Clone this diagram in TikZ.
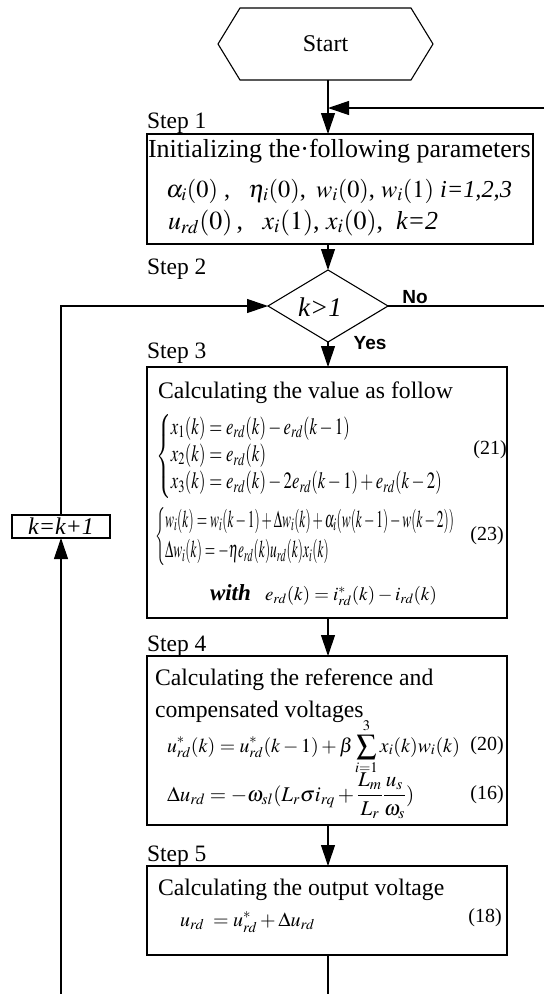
\documentclass[tikz,border=0pt]{standalone}
\usepackage{mathptmx}
\usepackage{fontspec}
\setmainfont{Liberation Serif}
\newfontfamily\sansb{Liberation Sans}
\usepackage{graphicx}
\usetikzlibrary{arrows.meta}
\newcommand{\fs}[1]{\fontsize{#1}{#1}\selectfont}
\tikzset{
  every node/.style={inner sep=0pt, outer sep=0pt},
  box/.style={draw, line width=1.2pt, anchor=north west},
  conn/.style={line width=1.1pt},
  arr/.style={line width=1.1pt, -{Triangle[length=21pt,width=14pt]}},
  steplabel/.style={anchor=base west, font=\fs{23.5}},
  bodytext/.style={anchor=base west, font=\fs{23.7}},
  eqnum/.style={font=\fs{20}},
  yn/.style={font=\sansb\bfseries\fs{19}},
}
\begin{document}
\begin{tikzpicture}[x=1pt,y=-1pt]
\useasboundingbox (0,0) rectangle (544,994);

% Start
\node[minimum width=215pt, minimum height=72pt, font=\fs{24}] (start) at (325.5,44) {Start};
\draw[conn] (start.west) -- ([xshift=22pt]start.north west) -- ([xshift=-22pt]start.north east)
  -- (start.east) -- ([xshift=-22pt]start.south east) -- ([xshift=22pt]start.south west) -- cycle;

% boxes
\node[box, minimum width=386pt, minimum height=110pt] (s1) at (147,134) {};
\node[minimum width=120pt, minimum height=72pt] (d) at (328,306) {};
\draw[conn] (d.north) -- (d.east) -- (d.south) -- (d.west) -- cycle;
\node[box, minimum width=360pt, minimum height=251pt] (s3) at (147,367) {};
\node[box, minimum width=360pt, minimum height=169pt] (s4) at (147,656) {};
\node[box, minimum width=360pt, minimum height=89pt] (s5) at (147,866) {};
\node[draw, line width=1.2pt, minimum width=98pt, minimum height=23pt, font=\fs{24}] (kb) at (61,526.5) {\textit{k=k+1}};

% step labels
\node[steplabel] (l1) at (147,128) {Step 1};
\node[steplabel] (l2) at (147,274) {Step 2};
\node[steplabel] (l3) at (147,358) {Step 3};
\node[steplabel] (l4) at (147,651) {Step 4};
\node[steplabel] (l5) at (147,861) {Step 5};

% Step 1 content
\node[anchor=base west, font=\fs{26}] (t1) at (148,157) {Initializing the·following parameters};
\node[anchor=base west, font=\fs{22}] (p1) at (166,197) {\resizebox{346pt}{!}{$\alpha_i(0)$\ ,\ \ \ $\eta_i(0)$, \,$w_i(0)$, $w_i(1)$\ \textit{i=1,2,3}}};
\node[anchor=base west, font=\fs{22}] (p2) at (168,229) {\resizebox{270pt}{!}{$u_{rd}(0)$\,,\ \ \ $x_i(1)$, $x_i(0)$,\ \ \textit{k=2}}};

% Step 2 content
\node[font=\fs{27}] (dk) at (320,307) {\textit{k>1}};
\node[yn] (no) at (415,297) {No};
\node[yn] (yes) at (370,343) {Yes};

% Step 3 content
\node[bodytext] (t3) at (158,398) {Calculating the value as follow};
\node[anchor=west, font=\fs{17}] (e21) at (156,456) {\resizebox*{287pt}{84pt}{$\left\{\begin{array}{@{}l@{}}
  x_1(k)=e_{rd}(k)-e_{rd}(k-1)\\[2pt]
  x_2(k)=e_{rd}(k)\\[2pt]
  x_3(k)=e_{rd}(k)-2e_{rd}(k-1)+e_{rd}(k-2)
  \end{array}\right.$}};
\node[eqnum] (n21) at (490,450) {(21)};
\node[anchor=west, font=\fs{15}] (e23) at (155,537) {\resizebox*{300pt}{58pt}{$\left\{\begin{array}{@{}l@{}}
  w_i(k)=w_i(k-1)+\Delta w_i(k)+\alpha_i(w(k-1)-w(k-2))\\[3pt]
  \Delta w_i(k)=-\eta e_{rd}(k)u_{rd}(k)x_i(k)
  \end{array}\right.$}};
\node[eqnum] (n23) at (487,536) {(23)};
\node[anchor=base west, font=\fs{23}] (with) at (210,600) {\textbf{\textit{with}}};
\node[anchor=base west, font=\fs{20}] (ew) at (265,600) {\resizebox{172pt}{!}{$e_{rd}(k)=i^*_{rd}(k)-i_{rd}(k)$}};

% Step 4 content
\node[bodytext] (t4a) at (155,685) {Calculating the reference and};
\node[bodytext] (t4b) at (155,717) {compensated voltages};
\node[anchor=base west, font=\fs{19}] (e20) at (167,752) {\resizebox{293pt}{!}{$\displaystyle u^*_{rd}(k)=u^*_{rd}(k-1)+\beta\sum_{i=1}^{3}x_i(k)w_i(k)$}};
\node[eqnum] (n20) at (487,746) {(20)};
\node[anchor=base west, font=\fs{21}] (e16) at (167,801) {$\displaystyle \Delta u_{rd}=-\omega_{sl}(L_r\sigma i_{rq}+\frac{L_m}{L_r}\frac{u_s}{\omega_s})$};
\node[eqnum] (n16) at (487,795) {(16)};

% Step 5 content
\node[bodytext] (t5) at (158,895) {Calculating the output voltage};
\node[anchor=base west, font=\fs{20}] (e18) at (180,926) {$u_{rd}\;=u^*_{rd}+\Delta u_{rd}$};
\node[eqnum] (n18) at (485,918) {(18)};

% connectors
\coordinate (rtop) at (544,108);
\coordinate (rno) at (544,306);
\coordinate (bot) at (328,994);
\coordinate (lb) at (61,994);
\draw[arr] (d.north |- start.south) -- (d.north |- s1.north);
\draw[arr] (rtop) -- (rtop -| d.north);
\draw[arr] (d.north |- s1.south) -- (d.north);
\draw[conn] (d.east) -- (rno);
\draw[arr] (d.south) -- (d.south |- s3.north);
\draw[arr] (d.south |- s3.south) -- (d.south |- s4.north);
\draw[arr] (d.south |- s4.south) -- (d.south |- s5.north);
\draw[conn] (d.south |- s5.south) -- (bot);
\draw[arr] (lb) -- (kb.south);
\draw[arr] (kb.north) |- (d.west);
\end{tikzpicture}
\end{document}
